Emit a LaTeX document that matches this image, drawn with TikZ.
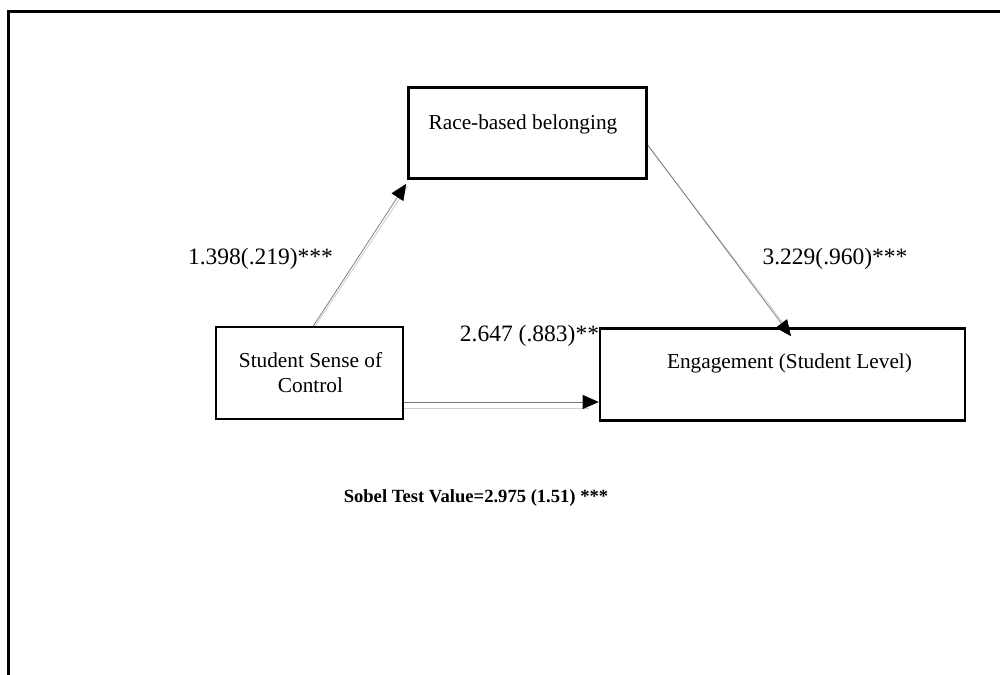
\documentclass[tikz,border=0pt]{standalone}
\usepackage{fontspec}
\setmainfont{Liberation Serif}
\usetikzlibrary{arrows.meta,calc}
\begin{document}
\begin{tikzpicture}[x=1pt,y=-1pt,
  box/.style={draw=black,line width=2.6pt,fill=white,inner sep=0pt},
  lbl/.style={font=\fontsize{21.3}{25}\selectfont,inner sep=0pt,anchor=base},
  num/.style={font=\fontsize{23.5}{27}\selectfont,inner sep=0pt,anchor=base},
  conn/.style={draw=black!55,line width=0.7pt,-{Triangle[length=16pt,width=14pt,color=black]}},
  shadow/.style={draw=black!20,line width=0.8pt}]
\useasboundingbox (0,0) rectangle (1000,674);
\clip (0,0) rectangle (1000,674);
% outer frame (extends beyond the page on right and bottom)
\draw[line width=3pt] (8.3,700) -- (8.3,11.3) -- (1020,11.3);
% boxes
\node[box,minimum width=238pt,minimum height=91pt] (race) at (527.5,133) {};
\node[box,minimum width=187pt,minimum height=92pt] (student) at (309.5,373) {};
\node[num] (c) at (529.5,341) {2.647 (.883)**};
\node[box,minimum width=365pt,minimum height=92pt] (engage) at (782.5,374.5) {};
% box texts
\node[lbl] (racet) at (523,129) {Race-based belonging};
\node[lbl] (stud1) at (310.5,367) {Student Sense of};
\node[lbl] (stud2) at (310.5,392) {Control};
\node[lbl] (engt) at (789.5,368) {Engagement (Student Level)};
% connectors
\draw[shadow] ($(student.north)+(6,0)$) -- ($(race.south west)+(1,6)$);
\draw[conn] ($(student.north)+(4,0)$) -- ($(race.south west)+(-1,4)$);
\draw[shadow] ($(race.east)+(1,14)$) -- ($(engage.north)+(7,4)$);
\draw[conn] ($(race.east)+(0,12)$) -- ($(engage.north)+(8.5,9)$);
\draw[shadow] ($(student.east)+(0,35)$) -- ($(engage.west)+(-10,33.5)$);
\draw[conn] ($(student.east)+(0,29)$) -- ($(engage.west)+(0,27.5)$);
% path labels
\node[num] (a) at (260.5,264) {1.398(.219)***};
\node[num] (b) at (835,264) {3.229(.960)***};
\node[font=\bfseries\fontsize{18.6}{22}\selectfont,inner sep=0pt,anchor=base] (sobel) at (476,502) {Sobel Test Value=2.975 (1.51) ***};
\end{tikzpicture}
\end{document}
